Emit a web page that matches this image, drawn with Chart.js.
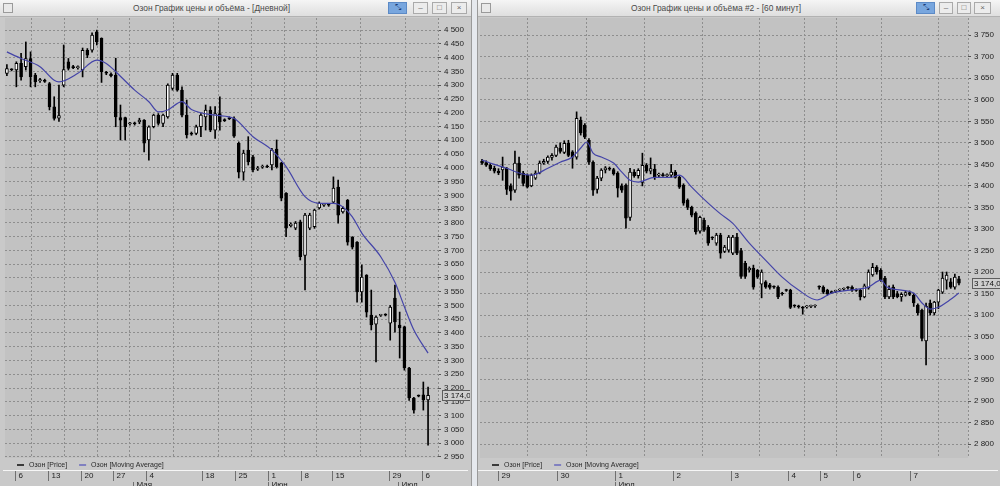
<!DOCTYPE html>
<html lang="ru">
<head>
<meta charset="utf-8">
<title>Озон — график цены и объёма</title>
<script src="https://cdn.jsdelivr.net/npm/chart.js@4.4.1/dist/chart.umd.min.js"></script>
<style>
  html, body { margin: 0; padding: 0; }
  body {
    width: 1000px; height: 486px; overflow: hidden; position: relative;
    background: #e6e9ee;
    font-family: 'Liberation Sans', Arial, sans-serif;
  }
  .win { position: absolute; top: 0; height: 486px; background: #c9c9c9; overflow: hidden; }
  .title {
    position: absolute; left: 0; right: 0; top: 0; height: 16px;
    background: linear-gradient(#f5f5f5, #dedede);
    border-bottom: 1px solid #b2b2b2;
  }
  .caption { position: absolute; top: 3px; font-size: 8.4px; color: #4a4a4a; white-space: nowrap; }
  .ico { position: absolute; left: 3px; top: 3px; width: 8px; height: 8px; border: 1px solid #9a9a9a; background: #e9e9e9; }
  .btn {
    position: absolute; top: 2px; height: 10px; border: 1px solid #aaaaaa; background: #ececec;
    font-size: 8px; line-height: 10px; text-align: center; color: #666;
  }
  .btn.blue { background: #78a6de; border-color: #5c8ac6; color: #1c3d78; }
  canvas { position: absolute; top: 17px; }
</style>
</head>
<body>

<div class="win" style="left:0; width:471px; border-right:1px solid #9a9a9a;">
  <div class="title">
    <span class="ico"></span>
    <span class="caption" style="left:133px">Озон График цены и объёма - [Дневной]</span>
    <span class="btn blue" style="left:388px; width:17px">⤡</span>
    <span class="btn" style="left:413px; width:13px">–</span>
    <span class="btn" style="left:432px; width:13px">□</span>
    <span class="btn" style="left:451px; width:14px">×</span>
  </div>
  <canvas id="dayChart" width="470" height="469" style="left:0"></canvas>
</div>

<div class="win" style="left:477px; width:523px; border-left:1px solid #9a9a9a;">
  <div class="title">
    <span class="ico"></span>
    <span class="caption" style="left:153px">Озон График цены и объёма #2 - [60 минут]</span>
    <span class="btn blue" style="left:438px; width:17px">⤡</span>
    <span class="btn" style="left:461px; width:12px">–</span>
    <span class="btn" style="left:479px; width:12px">□</span>
    <span class="btn" style="left:496px; width:15px">×</span>
  </div>
  <canvas id="hourChart" width="522" height="469" style="left:0"></canvas>
</div>

<script>
// Дневной график (левое окно)
const dayOpen = [
  4343, 4358, 4355, 4379, 4367, 4397, 4337, 4316, 4318, 4306,
  4221, 4180, 4300, 4385, 4367, 4364, 4355, 4427, 4427, 4494,
  4470, 4346, 4340, 4337, 4182, 4182, 4160, 4162, 4167, 4173,
  4101, 4149, 4191, 4161, 4185, 4288, 4337, 4282, 4191, 4125,
  4125, 4149, 4185, 4210, 4137, 4197, 4175, 4180, 4179, 4089,
  3984, 4064, 4040, 3995, 4002, 4005, 4010, 4068, 4017, 3908,
  3790, 3781, 3804, 3682, 3781, 3786, 3854, 3864, 3865, 3875,
  3930, 3840, 3883, 3748, 3730, 3549, 3610, 3465, 3432, 3464,
  3466, 3436, 3527, 3429, 3422, 3273, 3164, 3172, 3175, 3157,
];
const dayHigh = [
  4375, 4360, 4385, 4416, 4457, 4421, 4343, 4325, 4322, 4310,
  4258, 4300, 4446, 4397, 4372, 4370, 4435, 4433, 4490, 4500,
  4472, 4350, 4345, 4398, 4228, 4184, 4165, 4166, 4180, 4175,
  4152, 4195, 4197, 4195, 4305, 4343, 4343, 4294, 4246, 4130,
  4155, 4197, 4228, 4222, 4222, 4258, 4178, 4185, 4185, 4094,
  4064, 4113, 4045, 4005, 4010, 4010, 4071, 4101, 4020, 3910,
  3800, 3805, 3810, 3835, 3835, 3850, 3876, 3868, 3868, 3967,
  3955, 3858, 3885, 3750, 3732, 3647, 3612, 3556, 3462, 3468,
  3470, 3500, 3574, 3476, 3425, 3275, 3166, 3175, 3222, 3204,
];
const dayLow = [
  4335, 4352, 4294, 4318, 4355, 4294, 4294, 4310, 4310, 4210,
  4173, 4168, 4294, 4355, 4360, 4358, 4330, 4400, 4420, 4446,
  4310, 4338, 4330, 4149, 4101, 4101, 4155, 4155, 4160, 4058,
  4028, 4145, 4155, 4149, 4180, 4282, 4278, 4185, 4108, 4118,
  4120, 4113, 4137, 4131, 4107, 4137, 4168, 4175, 4110, 3963,
  3955, 4010, 3985, 3990, 3998, 4000, 3992, 3999, 3880, 3750,
  3785, 3775, 3665, 3556, 3775, 3780, 3850, 3860, 3860, 3870,
  3799, 3835, 3719, 3705, 3512, 3512, 3458, 3411, 3295, 3460,
  3462, 3374, 3403, 3309, 3265, 3155, 3109, 3168, 3120, 2993,
];
const dayClose = [
  4360, 4356, 4379, 4330, 4397, 4330, 4312, 4320, 4314, 4221,
  4179, 4190, 4357, 4361, 4364, 4366, 4427, 4409, 4482, 4457,
  4349, 4344, 4335, 4185, 4173, 4149, 4162, 4160, 4173, 4089,
  4149, 4191, 4161, 4191, 4300, 4337, 4282, 4191, 4119, 4122,
  4149, 4191, 4210, 4137, 4197, 4167, 4171, 4178, 4115, 3984,
  4053, 4021, 3992, 4000, 4005, 4003, 4064, 4004, 3890, 3781,
  3795, 3799, 3677, 3828, 3828, 3846, 3872, 3865, 3864, 3926,
  3828, 3853, 3730, 3712, 3549, 3603, 3476, 3429, 3458, 3465,
  3465, 3494, 3440, 3418, 3273, 3164, 3120, 3171, 3157, 3174,
];
// скользящая средняя: позиция бара и значение
const dayMaIndex = [0, 3, 7, 10, 11, 15, 19, 21, 23, 27, 30, 32, 34, 37, 39, 44, 48, 52, 56, 59, 63, 66, 69, 71, 73, 75, 79, 82, 84, 86, 89];
const dayMaValue = [4421, 4397, 4367, 4318, 4312, 4343, 4391, 4379, 4349, 4282, 4240, 4203, 4210, 4240, 4212, 4191, 4179, 4113, 4064, 4004, 3895, 3871, 3871, 3858, 3822, 3763, 3677, 3584, 3495, 3411, 3327];
const dayTickPos = [1.7, 8.7, 15.7, 22.5, 29.4, 41.2, 48.3, 55.2, 62.1, 68.8, 80.8, 87.7];
const dayTickLabels = ['6', '13', '20', '27', '4', '18', '25', '1', '8', '15', '29', '6'];
const dayMonthPos = [26.6, 55.2, 82.7];
const dayMonthLabels = ['Мая', 'Июн', 'Июл'];
const dayPriceTicks = [4500, 4450, 4400, 4350, 4300, 4250, 4200, 4150, 4100, 4050, 4000, 3950, 3900, 3850, 3800, 3750,
  3700, 3650, 3600, 3550, 3500, 3450, 3400, 3350, 3300, 3250, 3200, 3150, 3100, 3050, 3000, 2950];

// 60-минутный график (правое окно)
const hourOpen = [
  3457, 3454, 3448, 3441, 3434, 3437, 3441, 3400, 3390, 3453,
  3430, 3425, 3400, 3418, 3430, 3453, 3457, 3466, 3471, 3488,
  3478, 3499, 3479, 3467, 3553, 3541, 3506, 3455, 3392, 3418,
  3437, 3440, 3438, 3430, 3400, 3402, 3327, 3432, 3424, 3408,
  3448, 3434, 3439, 3425, 3426, 3424, 3425, 3432, 3420, 3402,
  3367, 3350, 3337, 3295, 3320, 3304, 3279, 3267, 3286, 3248,
  3251, 3244, 3281, 3250, 3220, 3205, 3209, 3204, 3172, 3177,
  3170, 3165, 3165, 3150, 3158, 3158, 3121, 3120, 3118, 3119,
  3120, 3121, 3165, 3165, 3158, 3153, 3155, 3158, 3160, 3163,
  3165, 3158, 3158, 3142, 3163, 3193, 3211, 3204, 3186, 3142,
  3165, 3150, 3142, 3146, 3152, 3146, 3123, 3111, 3040, 3128,
  3105, 3130, 3153, 3181, 3177, 3165, 3184,
];
const hourHigh = [
  3462, 3458, 3452, 3446, 3440, 3467, 3443, 3405, 3481, 3467,
  3434, 3428, 3428, 3435, 3458, 3462, 3470, 3475, 3495, 3500,
  3505, 3506, 3482, 3572, 3560, 3545, 3510, 3458, 3422, 3440,
  3445, 3444, 3441, 3433, 3405, 3405, 3441, 3438, 3440, 3476,
  3452, 3465, 3450, 3430, 3430, 3428, 3450, 3436, 3423, 3405,
  3370, 3353, 3340, 3330, 3325, 3308, 3282, 3290, 3290, 3262,
  3285, 3285, 3290, 3255, 3225, 3212, 3216, 3206, 3205, 3180,
  3174, 3168, 3168, 3153, 3160, 3160, 3124, 3123, 3120, 3122,
  3123, 3124, 3168, 3168, 3160, 3156, 3158, 3161, 3163, 3166,
  3168, 3161, 3160, 3172, 3205, 3220, 3215, 3208, 3190, 3168,
  3170, 3155, 3152, 3155, 3156, 3150, 3126, 3114, 3128, 3135,
  3132, 3160, 3200, 3200, 3185, 3195, 3190,
];
const hourLow = [
  3450, 3445, 3436, 3430, 3426, 3413, 3380, 3367, 3385, 3418,
  3400, 3395, 3398, 3415, 3428, 3450, 3452, 3460, 3468, 3476,
  3475, 3468, 3441, 3462, 3518, 3510, 3450, 3378, 3383, 3412,
  3430, 3436, 3425, 3374, 3385, 3302, 3320, 3420, 3418, 3400,
  3430, 3428, 3415, 3420, 3422, 3420, 3420, 3418, 3394, 3355,
  3345, 3328, 3288, 3290, 3294, 3262, 3275, 3262, 3232, 3245,
  3246, 3240, 3240, 3185, 3185, 3200, 3160, 3185, 3140, 3162,
  3160, 3162, 3138, 3146, 3155, 3115, 3118, 3116, 3102, 3116,
  3117, 3118, 3160, 3150, 3146, 3150, 3152, 3155, 3157, 3160,
  3155, 3155, 3135, 3140, 3160, 3190, 3195, 3178, 3138, 3138,
  3138, 3140, 3132, 3144, 3145, 3120, 3100, 3040, 2984, 3100,
  3100, 3115, 3150, 3160, 3162, 3160, 3170,
];
const hourClose = [
  3453, 3448, 3440, 3434, 3430, 3444, 3392, 3388, 3453, 3425,
  3406, 3397, 3425, 3430, 3453, 3457, 3467, 3471, 3490, 3480,
  3499, 3471, 3467, 3557, 3523, 3513, 3455, 3390, 3418, 3437,
  3442, 3439, 3428, 3395, 3390, 3325, 3432, 3424, 3436, 3448,
  3434, 3440, 3420, 3426, 3424, 3425, 3432, 3420, 3397, 3360,
  3350, 3332, 3293, 3327, 3297, 3267, 3279, 3286, 3244, 3258,
  3281, 3281, 3244, 3190, 3190, 3209, 3165, 3188, 3200, 3165,
  3164, 3165, 3142, 3149, 3157, 3118, 3121, 3119, 3116, 3120,
  3121, 3122, 3165, 3153, 3149, 3152, 3156, 3159, 3161, 3163,
  3158, 3157, 3142, 3168, 3200, 3211, 3200, 3181, 3142, 3160,
  3142, 3143, 3148, 3152, 3148, 3128, 3105, 3046, 3120, 3105,
  3130, 3158, 3186, 3193, 3165, 3188, 3174,
];
const hourMaIndex = [0, 3, 6, 9, 12, 16, 19, 22, 24, 25.5, 27, 29, 32, 34, 36, 38, 42, 46, 48, 51, 53, 55, 58, 61, 65,
  69, 73, 77, 81.5, 85, 89.5, 94, 97, 98.5, 102, 105, 107, 109, 111, 113, 116];
const hourMaValue = [3460, 3450, 3441, 3430, 3425, 3441, 3455, 3467, 3488, 3502, 3476, 3467, 3453, 3432, 3413, 3409, 3420,
  3420, 3425, 3397, 3378, 3360, 3335, 3313, 3267, 3227, 3188, 3158, 3135, 3151, 3158, 3165, 3181, 3165, 3158, 3151,
  3128, 3114, 3118, 3130, 3151];
const hourTickPos = [3.9, 18.2, 32.4, 46.5, 60.6, 74.5, 82.2, 90.3, 104.1];
const hourTickLabels = ['29', '30', '1', '2', '3', '4', '5', '6', '7'];
const hourMonthPos = [32.4];
const hourMonthLabels = ['Июл'];
const hourPriceTicks = [3750, 3700, 3650, 3600, 3550, 3500, 3450, 3400, 3350, 3300, 3250, 3200, 3150, 3100, 3050, 3000,
  2950, 2900, 2850, 2800];

const legendItems = [
  { text: 'Озон [Price]', color: '#3a3a3a' },
  { text: 'Озон [Moving Average]', color: '#8080c0' },
];

const FONT = "'Liberation Sans', Arial, sans-serif";
const GRID = '#8e8e8e';
const MA_COLOR = '#4444a8';

Chart.defaults.font.family = FONT;
Chart.defaults.font.size = 8;
Chart.defaults.color = '#1e1e1e';

function formatPrice(v) {
  return String(v).replace(/\B(?=(\d{3})+(?!\d))/g, ' ');
}

// фон области, легенда, полоса дат и плашка последней цены
const chartFrame = {
  id: 'chartFrame',
  beforeDraw(chart, args, opts) {
    const { ctx, chartArea: a } = chart;
    ctx.save();
    ctx.fillStyle = '#c2c2c2';
    ctx.fillRect(a.left, a.top, a.right - a.left, a.bottom - a.top);
    ctx.restore();
  },
  afterDraw(chart, args, opts) {
    const { ctx, chartArea: a, scales } = chart;
    const xs = scales.x;
    const ys = scales.y;
    ctx.save();
    ctx.textBaseline = 'middle';
    ctx.textAlign = 'left';

    // правая граница области — пунктир
    ctx.strokeStyle = GRID;
    ctx.setLineDash([2, 2]);
    ctx.beginPath();
    ctx.moveTo(Math.round(a.right) + 0.5, a.top);
    ctx.lineTo(Math.round(a.right) + 0.5, a.bottom);
    ctx.stroke();
    ctx.setLineDash([]);

    // легенда
    ctx.font = '7px ' + FONT;
    let lx = a.left + 12;
    const ly = a.bottom + 7;
    legendItems.forEach(item => {
      ctx.fillStyle = item.color;
      ctx.fillRect(lx, ly - 1, 7, 2);
      ctx.fillStyle = '#2a2a2a';
      ctx.fillText(item.text, lx + 12, ly);
      lx += 12 + ctx.measureText(item.text).width + 12;
    });

    // полоса дат
    ctx.font = '8px ' + FONT;
    const top = a.bottom + 12;
    ctx.strokeStyle = '#f6f6f6';
    ctx.beginPath();
    ctx.moveTo(a.left - 2, top + 0.5);
    ctx.lineTo(chart.width - 2, top + 0.5);
    ctx.stroke();
    ctx.strokeStyle = '#707070';
    opts.ticks.forEach((p, i) => {
      const px = Math.round(xs.getPixelForValue(p)) + 0.5;
      ctx.beginPath();
      ctx.moveTo(px, top + 1);
      ctx.lineTo(px, top + 11);
      ctx.stroke();
      ctx.fillStyle = '#222';
      ctx.fillText(opts.tickLabels[i], px + 3, top + 6);
    });
    opts.months.forEach((p, i) => {
      const px = Math.round(xs.getPixelForValue(p)) + 0.5;
      ctx.beginPath();
      ctx.moveTo(px, top + 12);
      ctx.lineTo(px, top + 17);
      ctx.stroke();
      ctx.fillStyle = '#222';
      ctx.fillText(opts.monthLabels[i], px + 3, top + 15);
    });

    // плашка последней цены
    const last = opts.lastPrice;
    const py = Math.round(ys.getPixelForValue(last));
    const bx = Math.round(a.right) + 4;
    const text = formatPrice(last) + ',0';
    const w = ctx.measureText(text).width + 4;
    ctx.fillStyle = '#cfcfcf';
    ctx.fillRect(bx, py - 5, w, 10);
    ctx.strokeStyle = '#5e5e5e';
    ctx.strokeRect(bx + 0.5, py - 4.5, w, 10);
    ctx.fillStyle = '#111';
    ctx.fillText(text, bx + 2, py + 0.5);
    ctx.restore();
  },
};
Chart.register(chartFrame);

/**
 * Свечной график: фитили и тела — плавающие бары, средняя — линия
 */
function plotarCandles(canvasId, s) {
  const ctx = document.getElementById(canvasId);
  if (!ctx) return null;

  const wicks = s.low.map((l, i) => ({ x: i, y: [l, s.high[i]] }));
  const bodies = s.open.map((o, i) => ({ x: i, y: [o, s.close[i]] }));
  const bodyFill = s.open.map((o, i) => (s.close[i] > o ? '#ffffff' : '#000000'));
  const ma = s.maIndex.map((x, i) => ({ x: x, y: s.maValue[i] }));

  const config = {
    type: 'bar',
    data: {
      datasets: [
        {
          type: 'line',
          label: 'Озон [Moving Average]',
          data: ma,
          order: 1,
          borderColor: MA_COLOR,
          borderWidth: 1.2,
          pointRadius: 0,
          cubicInterpolationMode: 'monotone',
        },
        {
          label: 'Озон [Price]',
          data: bodies,
          order: 2,
          grouped: false,
          barThickness: 3,
          minBarLength: 1,
          backgroundColor: bodyFill,
          borderColor: '#000000',
          borderWidth: 1,
          borderSkipped: false,
        },
        {
          label: 'Озон [Price] wick',
          data: wicks,
          order: 3,
          grouped: false,
          barThickness: 1,
          backgroundColor: '#000000',
          borderWidth: 0,
        },
      ],
    },
    options: {
      responsive: false,
      animation: false,
      events: [],
      layout: { padding: { left: s.padLeft, right: 0, top: 1, bottom: 28 } },
      scales: {
        x: {
          type: 'linear',
          min: s.xMin,
          max: s.xMax,
          offset: false,
          afterBuildTicks: sc => { sc.ticks = s.tickPos.map(v => ({ value: v })); },
          afterFit: sc => { sc.height = 0; sc.paddingLeft = 0; sc.paddingRight = 0; },
          ticks: { display: false },
          grid: { color: GRID, drawTicks: false },
          border: { display: false, dash: [2, 2] },
        },
        y: {
          position: 'right',
          min: s.yMin,
          max: s.yMax,
          afterBuildTicks: sc => { sc.ticks = s.priceTicks.map(v => ({ value: v })); },
          afterFit: sc => { sc.width = 32; sc.paddingTop = 0; sc.paddingBottom = 0; },
          ticks: {
            autoSkip: false,
            padding: 3,
            color: '#222',
            callback: v => formatPrice(v),
          },
          grid: { color: GRID, tickLength: 3, tickColor: '#555', tickBorderDash: [] },
          border: { display: false, dash: [2, 2] },
        },
      },
      plugins: {
        legend: { display: false },
        tooltip: { enabled: false },
        chartFrame: {
          ticks: s.tickPos,
          tickLabels: s.tickLabels,
          months: s.monthPos,
          monthLabels: s.monthLabels,
          lastPrice: s.close[s.close.length - 1],
        },
      },
    },
  };

  return new Chart(ctx, config);
}

const charts = {};

window.addEventListener('DOMContentLoaded', function () {
  charts.day = plotarCandles('dayChart', {
    open: dayOpen, high: dayHigh, low: dayLow, close: dayClose,
    maIndex: dayMaIndex, maValue: dayMaValue,
    tickPos: dayTickPos, tickLabels: dayTickLabels,
    monthPos: dayMonthPos, monthLabels: dayMonthLabels,
    priceTicks: dayPriceTicks,
    xMin: -0.4, xMax: 91.1, yMin: 2946, yMax: 4544, padLeft: 5,
  });

  charts.hour = plotarCandles('hourChart', {
    open: hourOpen, high: hourHigh, low: hourLow, close: hourClose,
    maIndex: hourMaIndex, maValue: hourMaValue,
    tickPos: hourTickPos, tickLabels: hourTickLabels,
    monthPos: hourMonthPos, monthLabels: hourMonthLabels,
    priceTicks: hourPriceTicks,
    xMin: -0.5, xMax: 118.2, yMin: 2768, yMax: 3790, padLeft: 2,
  });
});
</script>
</body>
</html>
